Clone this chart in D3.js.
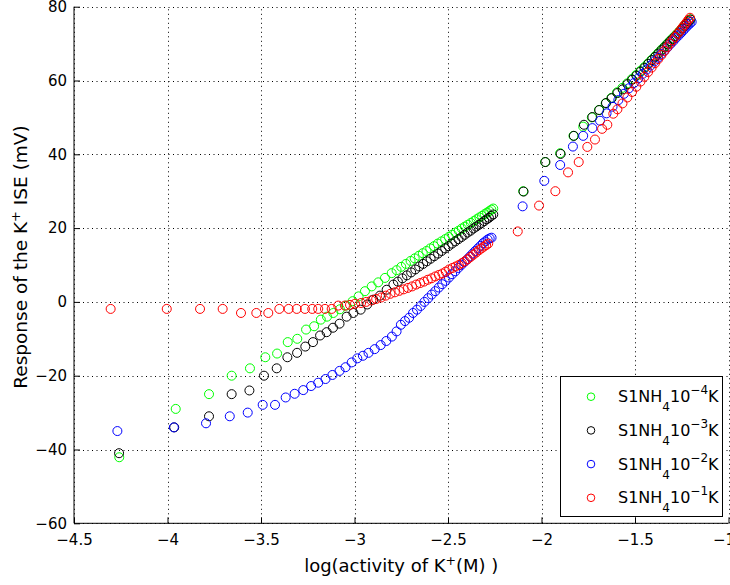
<!DOCTYPE html>
<html><head><meta charset="utf-8">
<script src="https://cdn.jsdelivr.net/npm/d3@7"></script>
<style>body{margin:0;background:#fff}svg{display:block}text{font-family:"DejaVu Sans",sans-serif}</style>
</head><body><svg id="c" width="730" height="585"></svg>
<script>
// ---- data ----
const xTicks = [-4.5,-4,-3.5,-3,-2.5,-2,-1.5,-1];
const xTickLabels = ["\u22124.5","\u22124","\u22123.5","\u22123","\u22122.5","\u22122","\u22121.5","\u22121"];
const yTicks = [-60,-40,-20,0,20,40,60,80];
const yTickLabels = ["\u221260","\u221240","\u221220","0","20","40","60","80"];
const seriesColors = ["#00ff00","#000000","#0000ff","#ff0000"];
const legendExponents = ["\u22124","\u22123","\u22122","\u22121"];

const greenPts = [
[-4.258,-42.1],[-3.956,-29.0],[-3.778,-25.0],[-3.657,-20.0],[-3.559,-18.0],[-3.477,-15.0],[-3.414,-14.0],[-3.357,-10.9],[-3.306,-10.0],[-3.259,-7.5],[-3.216,-6.6],[-3.180,-4.8],[-3.147,-4.0],[-3.113,-3.0],[-3.078,-2.0],[-3.045,-1.0],[-3.010,0.2],[-2.978,1.5],[-2.944,2.9],[-2.908,4.2],[-2.873,5.3],[-2.837,6.5],[-2.801,7.8],
[-2.775,8.6],[-2.750,9.5],[-2.725,10.3],[-2.700,11.1],[-2.678,11.8],[-2.656,12.5],[-2.635,13.2],[-2.615,13.8],[-2.595,14.5],[-2.575,15.1],[-2.555,15.8],[-2.535,16.4],[-2.515,17.0],[-2.496,17.6],[-2.478,18.2],[-2.460,18.8],[-2.443,19.3],[-2.426,19.9],[-2.410,20.4],[-2.394,20.9],[-2.378,21.4],[-2.362,21.9],[-2.347,22.4],[-2.332,22.9],[-2.318,23.3],[-2.304,23.8],[-2.291,24.2],[-2.279,24.6],[-2.268,25.0],[-2.258,25.3],
[-2.098,30.0],[-1.981,37.9],[-1.900,40.3],[-1.829,45.0],[-1.777,47.5],[-1.731,50.0],[-1.693,52.0],[-1.657,53.8],[-1.626,55.3],[-1.596,56.8],[-1.568,58.0],[-1.542,59.2],[-1.517,60.4],[-1.494,61.5],[-1.472,62.6],[-1.451,63.6],[-1.431,64.6],[-1.412,65.6],[-1.394,66.5],[-1.377,67.4],[-1.360,68.3],[-1.344,69.1],[-1.329,69.9],[-1.314,70.7],[-1.300,71.4],[-1.286,72.1],[-1.273,72.8],[-1.260,73.5],[-1.248,74.2],[-1.236,74.9],[-1.225,75.5],[-1.214,76.1],[-1.205,76.6]
];
const blackPts = [
[-4.259,-41.0],[-3.964,-34.0],[-3.778,-31.0],[-3.657,-25.0],[-3.562,-24.0],[-3.484,-20.0],[-3.416,-18.0],[-3.359,-15.0],[-3.307,-13.8],[-3.263,-12.1],[-3.222,-10.9],[-3.184,-9.1],[-3.149,-8.2],[-3.115,-7.0],[-3.080,-5.9],[-3.042,-4.0],[-3.006,-3.0],[-2.967,-2.1],[-2.932,-0.7],[-2.900,0.6],[-2.864,1.7],[-2.828,3.3],[-2.792,4.7],
[-2.768,5.5],[-2.744,6.4],[-2.720,7.2],[-2.697,8.0],[-2.675,8.8],[-2.654,9.6],[-2.633,10.3],[-2.613,11.0],[-2.593,11.7],[-2.573,12.4],[-2.553,13.1],[-2.534,13.8],[-2.515,14.5],[-2.497,15.1],[-2.479,15.8],[-2.461,16.4],[-2.444,17.0],[-2.427,17.6],[-2.411,18.2],[-2.395,18.8],[-2.379,19.3],[-2.364,19.9],[-2.349,20.4],[-2.334,20.9],[-2.320,21.4],[-2.306,21.9],[-2.293,22.4],[-2.281,22.8],[-2.269,23.3],[-2.258,23.7],
[-2.096,29.9],[-1.979,37.9],[-1.898,40.1],[-1.827,45.0],[-1.773,48.0],[-1.728,50.1],[-1.691,52.0],[-1.655,53.9],[-1.625,55.2],[-1.594,56.6],[-1.566,57.6],[-1.540,59.0],[-1.515,60.2],[-1.492,61.3],[-1.470,62.4],[-1.449,63.4],[-1.429,64.5],[-1.410,65.5],[-1.392,66.4],[-1.375,67.3],[-1.358,68.2],[-1.342,69.0],[-1.327,69.8],[-1.312,70.6],[-1.298,71.3],[-1.284,72.0],[-1.271,72.7],[-1.258,73.4],[-1.246,74.1],[-1.234,74.8],[-1.223,75.4],[-1.212,76.0],[-1.203,76.5]
];
const bluePts = [
[-4.268,-35.0],[-3.966,-34.0],[-3.794,-32.9],[-3.667,-31.0],[-3.571,-30.0],[-3.491,-27.9],[-3.425,-27.9],[-3.368,-25.9],[-3.320,-24.9],[-3.274,-23.9],[-3.232,-22.8],[-3.194,-21.9],[-3.155,-20.9],[-3.118,-19.8],[-3.080,-18.7],[-3.048,-17.7],[-3.015,-16.4],[-2.985,-15.3],[-2.955,-14.6],[-2.925,-13.8],[-2.892,-12.8],[-2.860,-11.7],[-2.830,-10.6],[-2.800,-9.4],[-2.775,-8.0],
[-2.752,-6.2],[-2.730,-5.2],[-2.708,-4.3],[-2.687,-3.0],[-2.666,-2.1],[-2.646,-1.1],[-2.626,0.0],[-2.606,1.0],[-2.587,2.0],[-2.568,2.9],[-2.549,3.9],[-2.531,4.8],[-2.513,5.7],[-2.495,6.6],[-2.478,7.5],[-2.461,8.3],[-2.445,9.2],[-2.429,10.0],[-2.413,10.8],[-2.398,11.5],[-2.383,12.3],[-2.368,13.1],[-2.354,13.8],[-2.340,14.5],[-2.326,15.2],[-2.313,15.9],[-2.300,16.4],[-2.288,16.9],[-2.277,17.2],[-2.267,17.4],
[-2.101,25.9],[-1.985,32.8],[-1.900,37.1],[-1.832,42.1],[-1.777,45.0],[-1.728,47.1],[-1.687,49.1],[-1.652,51.1],[-1.620,52.9],[-1.589,54.7],[-1.559,56.4],[-1.532,57.9],[-1.506,59.3],[-1.482,60.6],[-1.459,61.8],[-1.437,63.0],[-1.416,64.1],[-1.396,65.2],[-1.377,66.2],[-1.359,67.2],[-1.342,68.1],[-1.326,69.0],[-1.310,69.9],[-1.295,70.7],[-1.281,71.5],[-1.267,72.2],[-1.254,72.9],[-1.241,73.6],[-1.229,74.3],[-1.218,74.9],[-1.207,75.4],[-1.197,75.9]
];
const redPts = [
[-4.304,-1.9],[-4.004,-1.9],[-3.826,-1.9],[-3.705,-1.9],[-3.607,-3.0],[-3.525,-3.0],[-3.461,-3.0],[-3.402,-1.9],[-3.352,-1.9],[-3.309,-1.9],[-3.265,-1.9],[-3.226,-1.9],[-3.194,-1.9],[-3.158,-1.9],[-3.122,-1.9],[-3.087,-1.0],[-3.051,-1.0],[-3.024,-0.8],[-2.997,-0.5],[-2.965,-0.3],[-2.937,0.0],[-2.910,0.4],[-2.884,0.8],[-2.858,1.2],[-2.833,1.7],[-2.808,2.2],[-2.784,2.6],[-2.760,3.0],[-2.737,3.4],[-2.714,3.8],[-2.692,4.2],[-2.670,4.7],[-2.649,5.1],[-2.628,5.5],[-2.608,6.0],[-2.588,6.4],[-2.568,6.9],[-2.549,7.3],[-2.530,7.7],[-2.512,8.2],[-2.494,8.8],[-2.476,9.2],[-2.459,9.6],[-2.442,10.0],[-2.426,10.5],[-2.410,11.0],[-2.394,11.6],[-2.379,12.2],[-2.364,12.8],[-2.349,13.4],[-2.335,14.0],[-2.321,14.5],[-2.308,15.0],[-2.296,15.4],[-2.285,15.8],
[-2.127,19.1],[-2.013,26.1],[-1.926,30.0],[-1.858,35.1],[-1.801,37.9],[-1.755,42.0],[-1.714,44.0],[-1.676,46.9],[-1.648,48.0],[-1.616,51.0],[-1.594,52.2],[-1.567,53.8],[-1.541,55.4],[-1.516,56.9],[-1.493,58.3],[-1.471,59.7],[-1.450,61.0],[-1.430,62.3],[-1.411,63.5],[-1.393,64.7],[-1.376,65.8],[-1.359,66.9],[-1.343,68.0],[-1.328,69.0],[-1.313,70.0],[-1.299,70.9],[-1.285,71.8],[-1.272,72.7],[-1.259,73.5],[-1.247,74.3],[-1.236,75.0],[-1.225,75.7],[-1.215,76.4],[-1.206,77.0]
];
const allSeries = [greenPts, blackPts, bluePts, redPts];

// ---- layout ----
const L = 74, R = 728.5, T = 6.7, B = 523.3;
const svg = d3.select("#c");
const x = d3.scaleLinear().domain([-4.5,-1]).range([L,R]);
const y = d3.scaleLinear().domain([-60,80]).range([B,T]);

// grid
const grid = svg.append("g").attr("stroke","#000").attr("stroke-width",1).attr("stroke-dasharray","1,3.5");
grid.selectAll("line.v").data(xTicks).join("line").attr("class","v")
  .attr("x1",d=>Math.round(x(d))+0.5).attr("x2",d=>Math.round(x(d))+0.5).attr("y1",B).attr("y2",T);
grid.selectAll("line.h").data(yTicks).join("line").attr("class","h")
  .attr("y1",d=>Math.round(y(d))+0.5).attr("y2",d=>Math.round(y(d))+0.5).attr("x1",L).attr("x2",R);

// points
allSeries.forEach((pts,i)=>{
  svg.append("g").selectAll("circle").data(pts).join("circle")
    .attr("cx",d=>x(d[0])).attr("cy",d=>y(d[1])).attr("r",4.5)
    .attr("fill","none").attr("stroke",seriesColors[i]).attr("stroke-width",1);
});

// axes
const fmtX = d => xTickLabels[xTicks.indexOf(d)];
const fmtY = d => yTickLabels[yTicks.indexOf(d)];
const minorX = d3.range(-4.5,-1.0001,0.05);
const minorY = d3.range(-60,80.001,2);
const gx = svg.append("g").attr("transform",`translate(0,${B})`);
gx.call(d3.axisBottom(x).tickValues(minorX).tickSize(-3).tickFormat(""));
gx.call(d3.axisBottom(x).tickValues(xTicks).tickSize(-6).tickPadding(11).tickFormat(fmtX));
const gy = svg.append("g").attr("transform",`translate(${L},0)`);
gy.call(d3.axisLeft(y).tickValues(minorY).tickSize(-3).tickFormat(""));
gy.call(d3.axisLeft(y).tickValues(yTicks).tickSize(-6).tickPadding(7).tickFormat(fmtY));
[gx,gy].forEach(g=>{
  g.selectAll("text").attr("font-size",15).attr("font-family","DejaVu Sans").attr("fill","#000");
  g.selectAll(".domain").attr("stroke","#000");
  g.selectAll("line").attr("stroke","#000");
});
gx.selectAll(".domain").attr("d",`M${L},0H${R}`);
gy.selectAll(".domain").attr("d",`M0,${B}V${T}`);
// keep the last x label partly visible at the right edge, as in the reference
gx.selectAll(".tick text").filter(d=>d===-1).attr("dx",-5);

// axis labels
const xl = svg.append("text").attr("x",(L+R)/2).attr("y",572).attr("text-anchor","middle").attr("font-size",18);
xl.append("tspan").text("log(activity of K");
xl.append("tspan").attr("font-size",12.5).attr("dy",-7.5).text("+");
xl.append("tspan").attr("dy",7.5).text("(M) )");

const yl = svg.append("text").attr("transform",`translate(27,${(T+B)/2 - 8}) rotate(-90)`).attr("text-anchor","middle").attr("font-size",18.5);
yl.append("tspan").text("Response of the K");
yl.append("tspan").attr("font-size",13).attr("dy",-7.5).text("+");
yl.append("tspan").attr("dy",7.5).text(" ISE (mV)");

// legend
const lg = svg.append("g");
lg.append("rect").attr("x",560.5).attr("y",376.5).attr("width",162).attr("height",140)
  .attr("fill","#fff").attr("stroke","#000").attr("stroke-width",1);
legendExponents.forEach((ex,i)=>{
  const cy = 396.7 + i*33.7;
  lg.append("circle").attr("cx",591).attr("cy",cy).attr("r",3.8).attr("fill","none").attr("stroke",seriesColors[i]);
  const t = lg.append("text").attr("x",618).attr("y",cy+5.6).attr("font-size",16);
  t.append("tspan").text("S1NH");
  t.append("tspan").attr("font-size",12).attr("dy",9).text("4");
  t.append("tspan").attr("dy",-9).text("10");
  t.append("tspan").attr("font-size",12).attr("dy",-8).text(ex);
  t.append("tspan").attr("dy",8).text("K");
});
</script></body></html>
